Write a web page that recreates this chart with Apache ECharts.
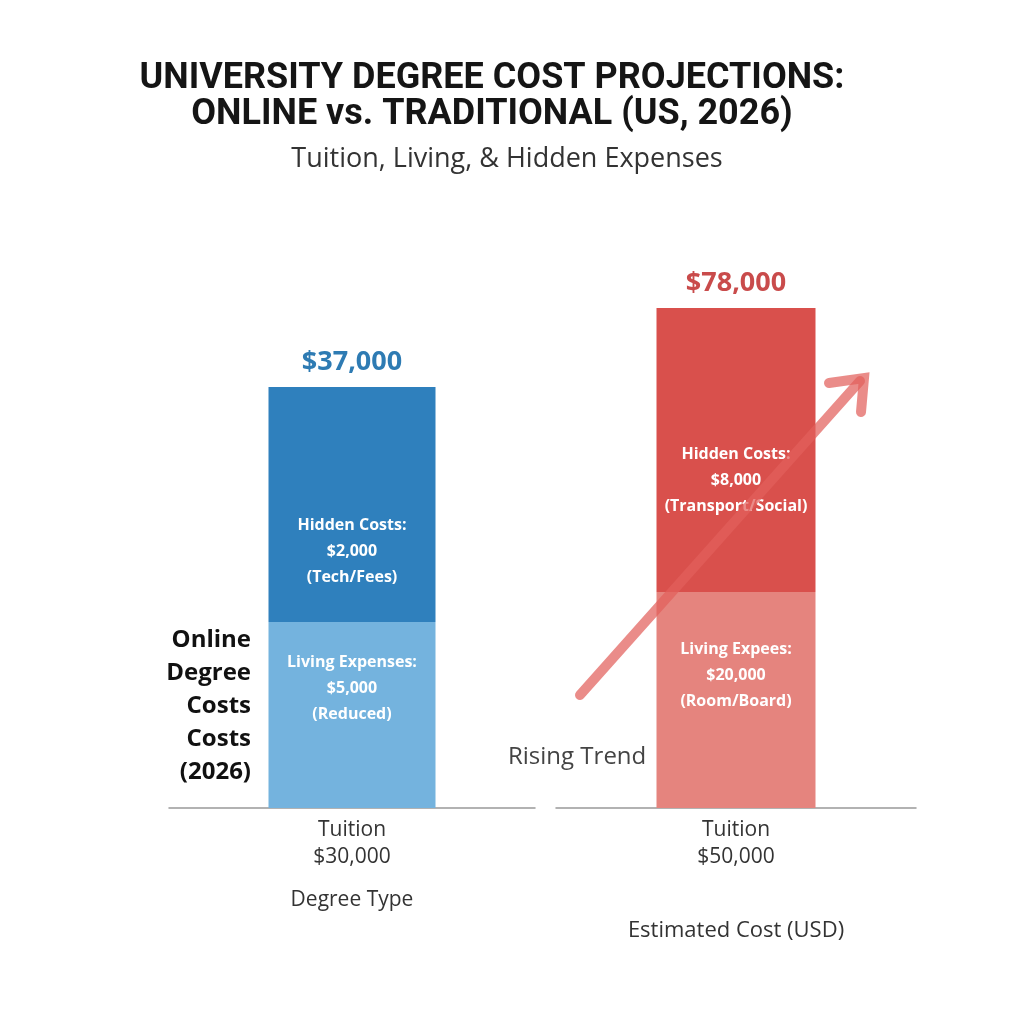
<!DOCTYPE html>
<html>
<head>
<meta charset="utf-8">
<script src="https://cdn.jsdelivr.net/npm/echarts@6/dist/echarts.min.js"></script>
<style>
  html, body { margin: 0; padding: 0; background: #fff; }
  #main { width: 1024px; height: 1024px; }
</style>
</head>
<body>
<div id="main"></div>
<script>
// values as written on the picture
var categories = ['Online', 'Traditional'];
var tuition = [30000, 50000];
var living = [5000, 20000];
var hidden = [2000, 8000];
var totals = [37000, 78000];
var livingTitles = ['Living Expenses:', 'Living Expees:'];
var livingNotes = ['Reduced', 'Room/Board'];
var hiddenNotes = ['Tech/Fees', 'Transport/Social'];
// segment heights as drawn (the picture's bars are not to scale with the dollar values)
var livingHeight = [37.2, 43.2];
var hiddenHeight = [47, 56.8];

var darkColors = ['#2f80bd', '#d9504c'];
var lightColors = ['#74b3de', '#e5847e'];
var totalColors = ['#2e7bb3', '#c94b4b'];
var hiddenOffset = [47, 30];
var livingOffset = [-27, -25];

function money(v) {
    return '$' + v.toLocaleString('en-US');
}

var chart = echarts.init(document.getElementById('main'));

var series = [];
categories.forEach(function (cat, i) {
    var stackName = 'stack' + i;
    series.push({
        name: cat + ' living',
        type: 'bar',
        xAxisIndex: i,
        yAxisIndex: i,
        stack: stackName,
        barWidth: i === 0 ? 167 : 159,
        itemStyle: { color: lightColors[i] },
        label: {
            show: true,
            position: 'inside',
            offset: [0, livingOffset[i]],
            color: '#fff',
            fontFamily: 'Open Sans',
            fontWeight: 'bold',
            fontSize: 16,
            lineHeight: 26,
            formatter: livingTitles[i] + '\n' + money(living[i]) + '\n(' + livingNotes[i] + ')'
        },
        data: [livingHeight[i]]
    });
    series.push({
        name: cat + ' hidden',
        type: 'bar',
        xAxisIndex: i,
        yAxisIndex: i,
        stack: stackName,
        itemStyle: { color: darkColors[i] },
        label: {
            show: true,
            position: 'inside',
            offset: [0, hiddenOffset[i]],
            color: '#fff',
            fontFamily: 'Open Sans',
            fontWeight: 'bold',
            fontSize: 16,
            lineHeight: 26,
            formatter: 'Hidden Costs:\n' + money(hidden[i]) + '\n(' + hiddenNotes[i] + ')'
        },
        data: [hiddenHeight[i]]
    });
    series.push({
        name: cat + ' total',
        type: 'bar',
        xAxisIndex: i,
        yAxisIndex: i,
        stack: stackName,
        itemStyle: { color: 'transparent' },
        label: {
            show: true,
            position: 'top',
            distance: 11,
            color: totalColors[i],
            fontFamily: 'Open Sans',
            fontWeight: 'bold',
            fontSize: 27,
            formatter: money(totals[i])
        },
        data: [0]
    });
});

var axisNames = ['Degree Type', 'Estimated Cost (USD)'];
var nameGaps = [82, 112];
var nameSizes = [21, 22];

chart.setOption({
    backgroundColor: '#fff',
    animation: false,
    title: [{
        text: 'UNIVERSITY DEGREE COST PROJECTIONS:\nONLINE vs. TRADITIONAL (US, 2026)',
        left: 487,
        top: 56,
        textAlign: 'center',
        textStyle: {
            fontFamily: 'Roboto',
            fontWeight: 'bold',
            fontSize: 36,
            lineHeight: 36,
            color: '#151515'
        }
    }, {
        text: 'Tuition, Living, & Hidden Expenses',
        left: 502,
        top: 141,
        textAlign: 'center',
        textStyle: {
            fontFamily: 'Open Sans',
            fontWeight: 'normal',
            fontSize: 27,
            color: '#333'
        }
    }],
    grid: [
        { left: 169, width: 366, top: 308, bottom: 216 },
        { left: 556, width: 360, top: 308, bottom: 216 }
    ],
    xAxis: categories.map(function (cat, i) {
        return {
            type: 'category',
            gridIndex: i,
            data: [cat],
            axisLine: { lineStyle: { color: '#999', width: 1.5 } },
            axisTick: { show: false },
            axisLabel: {
                margin: 9,
                color: '#333',
                fontFamily: 'Open Sans',
                fontSize: 21,
                lineHeight: 27,
                formatter: function () {
                    return 'Tuition\n' + money(tuition[i]);
                }
            },
            name: axisNames[i],
            nameLocation: 'middle',
            nameGap: nameGaps[i],
            nameTextStyle: {
                color: '#333',
                fontFamily: 'Open Sans',
                fontSize: nameSizes[i]
            }
        };
    }),
    yAxis: categories.map(function (cat, i) {
        return {
            type: 'value',
            gridIndex: i,
            min: 0,
            max: 100,
            show: false
        };
    }),
    series: series,
    graphic: [{
        type: 'text',
        x: 251,
        y: 624,
        style: {
            text: 'Online\nDegree\nCosts\nCosts\n(2026)',
            textAlign: 'right',
            fill: '#111',
            font: 'bold 24px "Open Sans"',
            lineHeight: 33
        }
    }, {
        type: 'text',
        x: 508,
        y: 745,
        style: {
            text: 'Rising Trend',
            fill: '#444',
            font: '24px "Open Sans"'
        }
    }, {
        type: 'polyline',
        z: 10,
        shape: { points: [[580, 695], [860, 381]] },
        style: { stroke: 'rgba(226, 96, 92, 0.72)', lineWidth: 10, lineCap: 'round' }
    }, {
        type: 'polyline',
        z: 10,
        shape: { points: [[829, 383], [864, 378], [861, 412]] },
        style: { stroke: 'rgba(226, 96, 92, 0.72)', fill: null, lineWidth: 10, lineCap: 'round', lineJoin: 'miter' }
    }]
});
</script>
</body>
</html>
